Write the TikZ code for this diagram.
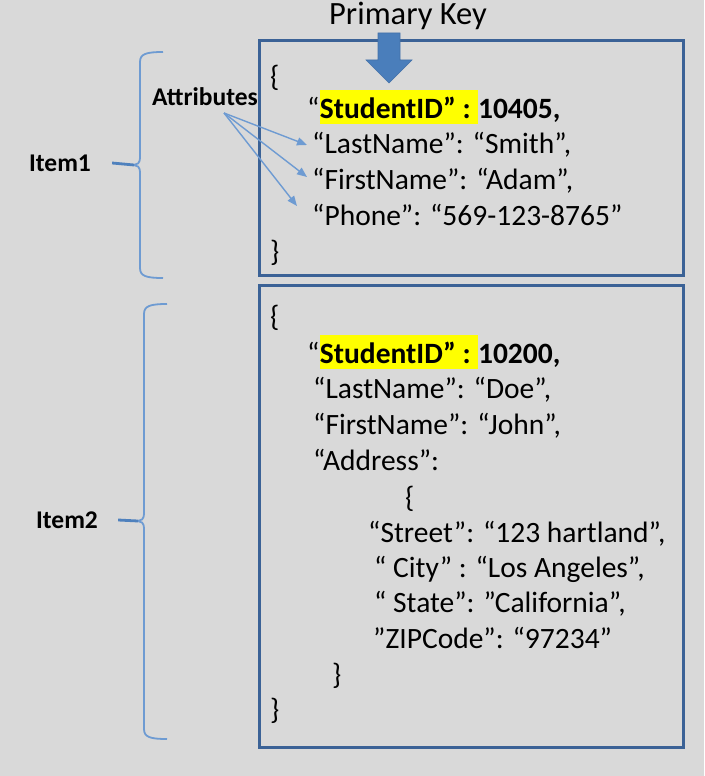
\documentclass[tikz,border=0pt]{standalone}
\usepackage{fontspec}
\setmainfont{Carlito}
\usetikzlibrary{arrows.meta}
\definecolor{bg}{RGB}{217,217,217}
\definecolor{boxblue}{RGB}{59,98,150}
\definecolor{arrblue}{RGB}{74,126,187}
\definecolor{tickblue}{RGB}{79,129,189}
\definecolor{lightblue}{RGB}{110,155,210}
\definecolor{hlyellow}{RGB}{255,255,0}
\begin{document}
\begin{tikzpicture}[x=1pt,y=-1pt,
  txt/.style={anchor=base west, inner sep=0pt, font=\fontsize{29.5}{36}\selectfont, text=black},
  boldtxt/.style={txt, font=\fontsize{29.5}{36}\selectfont\bfseries},
  hl/.style={boldtxt, fill=hlyellow, text height=28pt, text depth=6pt},
  lbl/.style={inner sep=0pt, font=\fontsize{25.5}{30}\selectfont\bfseries, text=black},
  container/.style={draw=boxblue, line width=3pt, anchor=north west, inner sep=0pt},
  brace/.style={draw=lightblue, line width=1.8pt},
  tick/.style={draw=tickblue, line width=2.8pt},
  attrarrow/.style={draw=lightblue, line width=1.4pt, -{Triangle[length=10pt,width=8pt]}},
  keyarrow/.style={fill=arrblue, draw=arrblue!90!black, line width=0.6pt},
]
\useasboundingbox (0,0) rectangle (704,776);
\fill[bg] (0,0) rectangle (704,776);

% containers
\node[container, minimum width=424pt, minimum height=235pt] (box1) at (258,39) {};
\node[container, minimum width=424pt, minimum height=462pt] (box2) at (258,284) {};

% primary key
\node[inner sep=0pt, anchor=base, font=\fontsize{32.5}{38}\selectfont] (pk) at (408,25) {Primary Key};
\path[keyarrow] (378,33) -- (400,33) -- (400,60) -- (412,60) -- (389,83) -- (366,60) -- (378,60) -- cycle;

% item 1 text
\node[txt] (ob1) at (270,86) {\{};
\node[txt] (q1) at (307,118) {“};
\node[hl] (k1) at (q1.base east) {StudentID”\ :\kern7pt};
\node[boldtxt] (v1) at (k1.base east) {10405,};
\node[txt] (ln1) at (312,153) {“LastName”: “Smith”,};
\node[txt] (fn1) at (312,189) {“FirstName”: “Adam”,};
\node[txt] (ph1) at (312,225) {“Phone”: “569-123-8765”};
\node[txt] (cb1) at (270,261) {\}};

% item 2 text
\node[txt] (ob2) at (270,326) {\{};
\node[txt] (q2) at (307,363) {“};
\node[hl] (k2) at (q2.base east) {StudentID”\ :\kern7pt};
\node[boldtxt] (v2) at (k2.base east) {10200,};
\node[txt] (ln2) at (313,398) {“LastName”: “Doe”,};
\node[txt] (fn2) at (313,434) {“FirstName”: “John”,};
\node[txt] (ad2) at (313,470) {“Address”:};
\node[txt] (ob3) at (405,507) {\{};
\node[txt] (st2) at (368,542) {“Street”: “123 hartland”,};
\node[txt] (ci2) at (374,577) {“ City” : “Los Angeles”,};
\node[txt] (sa2) at (374,612) {“ State”: ”California”,};
\node[txt] (zi2) at (373,648) {”ZIPCode”: “97234”};
\node[txt] (cb3) at (332,684) {\}};
\node[txt] (cb2) at (270,719) {\}};

% attributes
\node[lbl] (attr) at (205,97) {Attributes};
\coordinate (asrc) at (224,113);
\coordinate (a1) at (307,145);
\coordinate (a2) at (307,177);
\coordinate (a3) at (297,206);
\draw[attrarrow] (asrc) -- (a1);
\draw[attrarrow] (asrc) -- (a2);
\draw[attrarrow] (asrc) -- (a3);

% braces and item labels
\node[lbl] (item1) at (60,163) {Item1};
\coordinate (b1tip) at (134,165);
\draw[brace] (163,52) .. controls (146,52) and (140,54) .. (140,62) -- (140,158)
  .. controls (140,163) and (137,165) .. (b1tip)
  .. controls (137,165) and (140,167) .. (140,172) -- (140,268)
  .. controls (140,276) and (146,278) .. (163,278);
\draw[tick] ([xshift=21pt]item1.east) -- (b1tip);

\node[lbl] (item2) at (67,520) {Item2};
\coordinate (b2tip) at (138,521);
\draw[brace] (167,304) .. controls (150,304) and (144,306) .. (144,314) -- (144,514)
  .. controls (144,519) and (141,521) .. (b2tip)
  .. controls (141,521) and (144,523) .. (144,528) -- (144,729)
  .. controls (144,737) and (150,739) .. (167,739);
\draw[tick] ([xshift=20pt]item2.east) -- (b2tip);
\end{tikzpicture}
\end{document}
